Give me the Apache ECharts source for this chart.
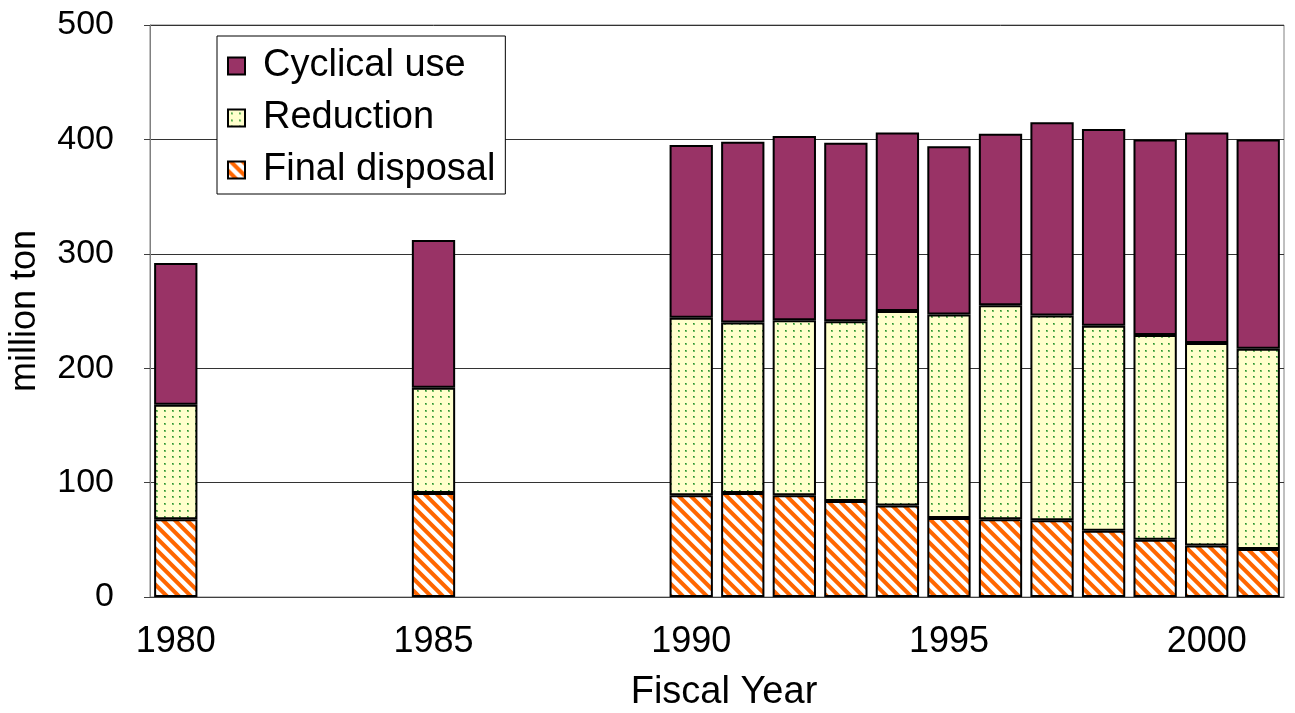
<!DOCTYPE html>
<html>
<head>
<meta charset="utf-8">
<script src="https://cdn.jsdelivr.net/npm/echarts@6/dist/echarts.min.js"></script>
<style>
  html, body { margin: 0; padding: 0; background: #fff; }
  #chart { width: 1295px; height: 713px; }
</style>
</head>
<body>
<div id="chart"></div>
<script>
// Fiscal years on the category axis
const years = ['1980','1981','1982','1983','1984','1985','1986','1987','1988','1989',
               '1990','1991','1992','1993','1994','1995','1996','1997','1998','1999',
               '2000','2001'];

// Industrial waste treatment, million ton (null = no survey that year)
const finalDisposal = [68, null, null, null, null, 91, null, null, null, null,
                       89, 91, 89, 84, 80, 69, 68, 67, 58, 50, 45, 42];
const reduction     = [100, null, null, null, null, 92, null, null, null, null,
                       155, 149, 153, 157, 170, 178, 187, 179, 179, 179, 177, 175];
const cyclicalUse   = [124, null, null, null, null, 129, null, null, null, null,
                       151, 158, 161, 156, 156, 147, 150, 169, 172, 171, 184, 183];

const yTicks = { min: 0, max: 500, step: 100 };

const FONT = 'Arial, "Liberation Sans", sans-serif';

// Light yellow fill with a fine grid of green dots
function dotPattern() {
  const c = document.createElement('canvas');
  c.width = 23; c.height = 20;
  const g = c.getContext('2d');
  g.fillStyle = '#ffffcc';
  g.fillRect(0, 0, c.width, c.height);
  const xs = [3, 11, 18], ys = [3, 10, 16];
  for (const x of xs) {
    for (const y of ys) {
      g.fillStyle = 'rgba(70,170,70,0.75)';
      g.fillRect(x, y, 2, 2);
      g.fillStyle = '#2e8b2e';
      g.fillRect(x, y, 1, 1);
    }
  }
  return c;
}

// Orange / white downward diagonal stripes
function stripePattern() {
  const P = 12, W = 5.6, S = 4;
  const c = document.createElement('canvas');
  c.width = P; c.height = P;
  const g = c.getContext('2d');
  const img = g.createImageData(P, P);
  for (let y = 0; y < P; y++) {
    for (let x = 0; x < P; x++) {
      let cov = 0;
      for (let sy = 0; sy < S; sy++) {
        for (let sx = 0; sx < S; sx++) {
          const px = x + (sx + 0.5) / S, py = y + (sy + 0.5) / S;
          const d = (((px - py) % P) + P) % P;
          if (d < W) cov++;
        }
      }
      const t = cov / (S * S);
      const i = (y * P + x) * 4;
      img.data[i]     = 255;
      img.data[i + 1] = Math.round(255 + (102 - 255) * t);
      img.data[i + 2] = Math.round(255 + (0 - 255) * t);
      img.data[i + 3] = 255;
    }
  }
  g.putImageData(img, 0, 0);
  return c;
}

const chart = echarts.init(document.getElementById('chart'), null, { renderer: 'canvas' });

const barBase = {
  type: 'bar',
  stack: 'total',
  barCategoryGap: '16%',
  emphasis: { disabled: true },
  animation: false
};

chart.setOption({
  animation: false,
  textStyle: { fontFamily: FONT, color: '#000' },
  grid: {
    left: 150, right: 11, top: 25, bottom: 116,
    containLabel: false,
    outerBoundsMode: 'none',
    show: true, borderColor: '#808080', borderWidth: 1, backgroundColor: '#fff'
  },
  legend: {
    data: ['Cyclical use', 'Reduction', 'Final disposal'],
    orient: 'vertical',
    left: 217, top: 36,
    padding: [11, 10, 5, 10],
    backgroundColor: '#fff',
    borderColor: '#000',
    borderWidth: 1,
    borderRadius: 0,
    itemWidth: 17, itemHeight: 17,
    itemGap: 14,
    icon: 'rect',
    selectedMode: false,
    textStyle: { fontFamily: FONT, fontSize: 38, color: '#000', lineHeight: 37, padding: [0, 0, 0, 13] }
  },
  xAxis: {
    type: 'category',
    data: years,
    name: 'Fiscal Year',
    nameLocation: 'middle',
    nameGap: 77,
    nameTextStyle: { fontFamily: FONT, fontSize: 38, color: '#000', padding: [0, 0, 0, 14] },
    axisLine: { show: true, lineStyle: { color: '#404040', width: 1 } },
    axisTick: { show: false },
    axisLabel: {
      interval: (idx, val) => Number(val) % 5 === 0,
      margin: 27,
      fontFamily: FONT, fontSize: 36, color: '#000'
    },
    splitLine: { show: false }
  },
  yAxis: {
    type: 'value',
    min: yTicks.min, max: yTicks.max, interval: yTicks.step,
    name: 'million ton',
    nameLocation: 'middle',
    nameGap: 107,
    nameRotate: 90,
    nameTextStyle: { fontFamily: FONT, fontSize: 36, color: '#000' },
    axisLine: { show: true, lineStyle: { color: '#808080', width: 1 } },
    axisTick: { show: true, inside: false, length: 6, lineStyle: { color: '#404040' } },
    axisLabel: { margin: 36, fontFamily: FONT, fontSize: 34, color: '#000' },
    splitLine: { show: true, lineStyle: { color: '#333', width: 1 } }
  },
  series: [
    Object.assign({}, barBase, {
      name: 'Final disposal',
      data: finalDisposal,
      itemStyle: { color: { image: stripePattern(), repeat: 'repeat' }, borderColor: '#000', borderWidth: 2 }
    }),
    Object.assign({}, barBase, {
      name: 'Reduction',
      data: reduction,
      itemStyle: { color: { image: dotPattern(), repeat: 'repeat' }, borderColor: '#000', borderWidth: 2 }
    }),
    Object.assign({}, barBase, {
      name: 'Cyclical use',
      data: cyclicalUse,
      itemStyle: { color: '#993366', borderColor: '#000', borderWidth: 2 }
    })
  ]
});
</script>
</body>
</html>
